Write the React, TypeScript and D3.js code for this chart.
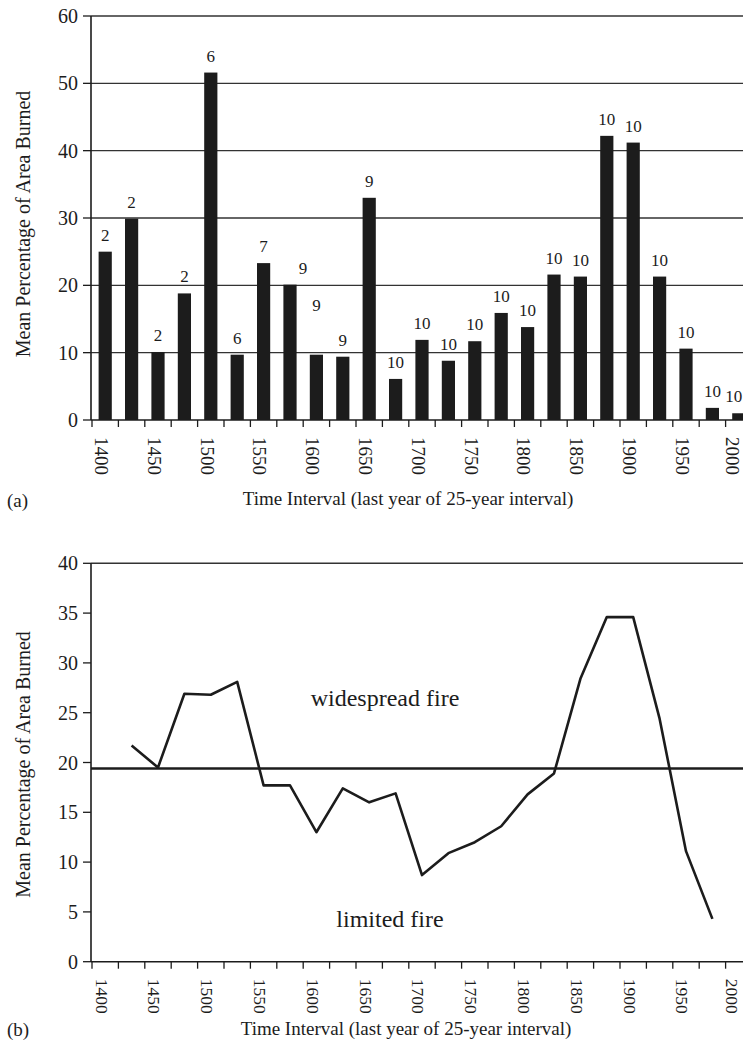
import * as d3 from "d3";

// panel (a): mean % area burned per 25-year interval, with sample counts above bars
const years = [
  "1400", "1425", "1450", "1475", "1500", "1525", "1550", "1575", "1600",
  "1625", "1650", "1675", "1700", "1725", "1750", "1775", "1800", "1825",
  "1850", "1875", "1900", "1925", "1950", "1975", "2000",
];
const meanBurned = [
  25.0, 29.9, 10.1, 18.8, 51.6, 9.7, 23.3, 20.1, 9.7, 9.4, 33.0, 6.1, 11.9,
  8.8, 11.7, 15.9, 13.8, 21.6, 21.3, 42.2, 41.2, 21.3, 10.6, 1.8, 1.0,
];
const sampleCounts = [
  2, 2, 2, 2, 6, 6, 7, 9, 9, 9, 9, 10, 10, 10, 10, 10, 10, 10, 10, 10, 10, 10,
  10, 10, 10,
];

// panel (b): smoothed curve and the widespread / limited threshold
const smoothYears = [
  "1425", "1450", "1475", "1500", "1525", "1550", "1575", "1600", "1625",
  "1650", "1675", "1700", "1725", "1750", "1775", "1800", "1825", "1850",
  "1875", "1900", "1925", "1950", "1975",
];
const smoothBurned = [
  21.7, 19.5, 26.9, 26.8, 28.1, 17.7, 17.7, 13.0, 17.4, 16.0, 16.9, 8.7, 10.9,
  12.0, 13.6, 16.8, 18.9, 28.4, 34.6, 34.6, 24.4, 11.1, 4.3,
];
const threshold = 19.4;

const tickYears = [
  "1400", "1450", "1500", "1550", "1600", "1650", "1700", "1750", "1800",
  "1850", "1900", "1950", "2000",
];
const yTicksA = [0, 10, 20, 30, 40, 50, 60];
const yTicksB = [0, 5, 10, 15, 20, 25, 30, 35, 40];

const W = 743;
const H = 1054;
const FONT = "'Liberation Serif', 'Times New Roman', serif";
const INK = "#1c1c1c";

// a few count labels sit off their bars in the original
const labelNudge: Record<string, [number, number]> = {
  "1575": [13, 0],
  "1600": [0, -33],
  "2000": [-5, 0],
};
// the last year label hugs the right edge of the page
const tickNudge: Record<string, number> = { "2000": -3 };

export default function App() {
  const x = d3.scaleBand().domain(years).range([92, 752]).paddingInner(0.5).paddingOuter(0.25);
  const bw = x.bandwidth();
  const step = x.step();
  const cx = (yr: string) => (x(yr) ?? 0) + bw / 2;

  const yA = d3.scaleLinear().domain([0, 60]).range([420, 16]);
  const yB = d3.scaleLinear().domain([0, 40]).range([961.7, 563.3]);

  const axisLeft = 91;
  const line = d3
    .line<number>()
    .x((_, i) => cx(smoothYears[i]))
    .y((d) => yB(d));

  const xTicks = (y0: number) =>
    years.map((yr) => {
      const tx = cx(yr) - step / 2;
      return <line key={yr} x1={tx} x2={tx} y1={y0} y2={y0 + 7} stroke={INK} strokeWidth={1.3} />;
    });

  const xLabels = (y0: number, size: number) =>
    tickYears.map((yr) => (
      <text
        key={yr}
        transform={`translate(${cx(yr) - 3.5 + (tickNudge[yr] ?? 0)},${y0 + 17}) rotate(90)`}
        dy="0.35em"
        fontSize={size}
        fill={INK}
      >
        {yr}
      </text>
    ));

  return (
    <svg
      width={W}
      height={H}
      style={{ position: "absolute", left: 0, top: 0, background: "#fff" }}
      fontFamily={FONT}
    >
      {/* ── panel (a) ── */}
      {yTicksA.slice(1).map((t) => (
        <line key={t} x1={axisLeft} x2={W} y1={yA(t)} y2={yA(t)} stroke="#333" strokeWidth={1.4} />
      ))}
      {meanBurned.map((v, i) => (
        <rect
          key={years[i]}
          x={x(years[i])}
          y={yA(v)}
          width={bw}
          height={yA(0) - yA(v)}
          fill={INK}
        />
      ))}
      {sampleCounts.map((n, i) => {
        const nudge = labelNudge[years[i]] ?? [0, 0];
        return (
          <text
            key={years[i]}
            x={cx(years[i]) + nudge[0]}
            y={yA(meanBurned[i]) - 11 + nudge[1]}
            textAnchor="middle"
            fontSize={17}
            fill={INK}
          >
            {n}
          </text>
        );
      })}
      <line x1={axisLeft} x2={axisLeft} y1={yA(60)} y2={yA(0)} stroke={INK} strokeWidth={1.6} />
      <line x1={axisLeft} x2={W} y1={yA(0)} y2={yA(0)} stroke={INK} strokeWidth={1.6} />
      {yTicksA.map((t) => (
        <g key={t}>
          <line x1={axisLeft - 8} x2={axisLeft} y1={yA(t)} y2={yA(t)} stroke={INK} strokeWidth={1.3} />
          <text x={78} y={yA(t)} dy="0.35em" textAnchor="end" fontSize={20} fill={INK}>
            {t}
          </text>
        </g>
      ))}
      {xTicks(yA(0))}
      {xLabels(yA(0), 19)}
      <text
        transform={`translate(23,${(yA(0) + yA(60)) / 2 + 6}) rotate(-90)`}
        textAnchor="middle"
        dy="0.35em"
        fontSize={20}
        fill={INK}
      >
        Mean Percentage of Area Burned
      </text>
      <text x={408} y={505} textAnchor="middle" fontSize={19} fill={INK}>
        Time Interval (last year of 25-year interval)
      </text>
      <text x={7} y={507} fontSize={19} fill={INK}>
        (a)
      </text>

      {/* ── panel (b) ── */}
      <line x1={axisLeft} x2={W} y1={yB(40)} y2={yB(40)} stroke="#333" strokeWidth={1.5} />
      <line x1={axisLeft} x2={W} y1={yB(threshold)} y2={yB(threshold)} stroke={INK} strokeWidth={2.4} />
      <path d={line(smoothBurned) ?? ""} fill="none" stroke={INK} strokeWidth={2.6} strokeLinejoin="round" />
      <line x1={axisLeft} x2={axisLeft} y1={yB(40)} y2={yB(0)} stroke={INK} strokeWidth={1.6} />
      <line x1={axisLeft} x2={W} y1={yB(0)} y2={yB(0)} stroke={INK} strokeWidth={1.6} />
      {yTicksB.map((t) => (
        <g key={t}>
          <line x1={axisLeft - 8} x2={axisLeft} y1={yB(t)} y2={yB(t)} stroke={INK} strokeWidth={1.3} />
          <text x={78} y={yB(t)} dy="0.35em" textAnchor="end" fontSize={20} fill={INK}>
            {t}
          </text>
        </g>
      ))}
      {xTicks(yB(0))}
      {xLabels(yB(0), 17.5)}
      <text x={385} y={706} textAnchor="middle" fontSize={24} fill={INK}>
        widespread fire
      </text>
      <text x={390} y={927} textAnchor="middle" fontSize={24} fill={INK}>
        limited fire
      </text>
      <text
        transform={`translate(23,${(yB(0) + yB(40)) / 2 + 2}) rotate(-90)`}
        textAnchor="middle"
        dy="0.35em"
        fontSize={20}
        fill={INK}
      >
        Mean Percentage of Area Burned
      </text>
      <text x={406} y={1035} textAnchor="middle" fontSize={19} fill={INK}>
        Time Interval (last year of 25-year interval)
      </text>
      <text x={7} y={1036} fontSize={19} fill={INK}>
        (b)
      </text>
    </svg>
  );
}
